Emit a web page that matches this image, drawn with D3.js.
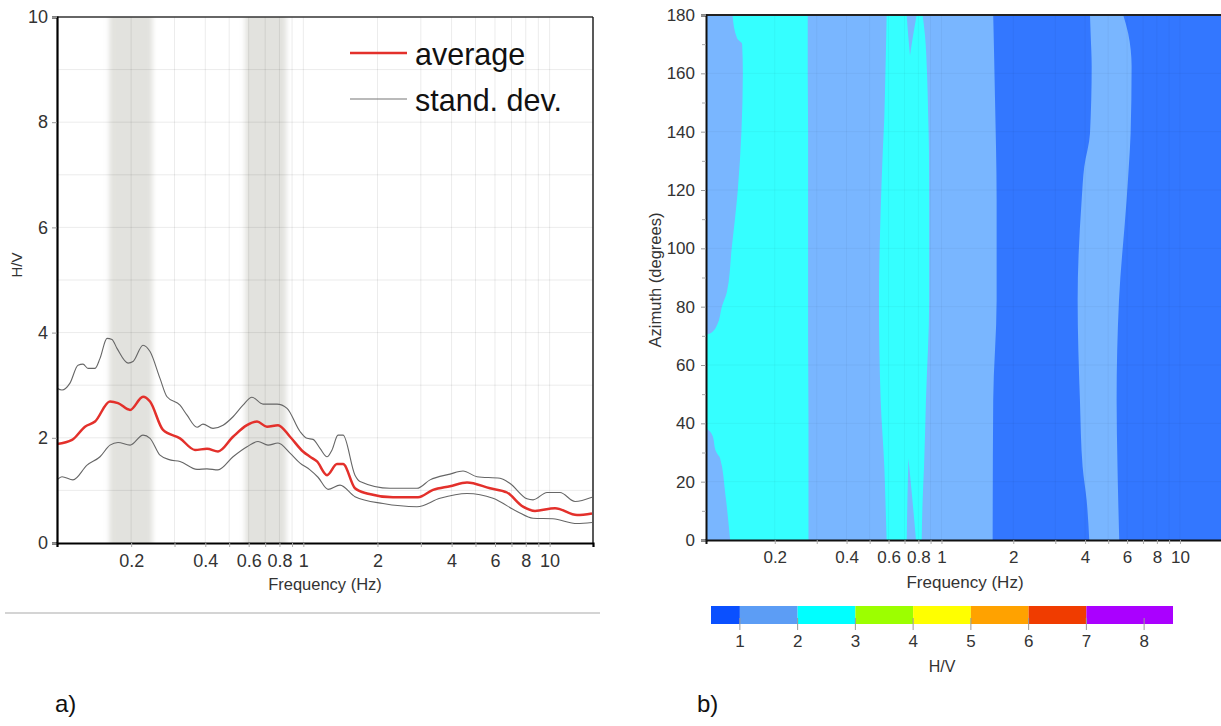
<!DOCTYPE html>
<html>
<head>
<meta charset="utf-8">
<script src="https://cdn.jsdelivr.net/npm/d3@7"></script>
<style>
  html, body { margin: 0; padding: 0; background: #fff; }
  svg { display: block; }
  text { font-family: "Liberation Sans", Arial, sans-serif; }
</style>
</head>
<body>
<svg id="chart" width="1221" height="726"></svg>
<script>
// ---------------- DATA ----------------
// Panel a) H/V curves (frequency in Hz, H/V ratio)
const avgFreq = [0.100,0.1151,0.1299,0.1427,0.1641,0.1769,0.1980,0.2235,0.2386,0.2694,0.3158,0.3634,0.4064,0.4505,0.5184,0.5907,0.6486,0.7121,0.7896,0.8831,0.997,1.065,1.1365,1.248,1.370,1.450,1.621,1.814,2.313,2.922,3.362,3.941,4.619,5.728,6.714,7.798,8.723,10.52,12.92,14.86];
const avgHV   = [1.88,1.96,2.21,2.31,2.69,2.66,2.53,2.78,2.69,2.15,1.99,1.77,1.79,1.74,2.02,2.24,2.31,2.21,2.24,2.02,1.74,1.64,1.55,1.29,1.50,1.50,1.04,0.94,0.87,0.87,1.01,1.08,1.15,1.04,0.96,0.69,0.61,0.66,0.53,0.56];

const upFreq = [0.100,0.1048,0.1129,0.1217,0.1275,0.1336,0.1427,0.1495,0.1596,0.1672,0.1752,0.1943,0.2035,0.2235,0.2386,0.2619,0.2797,0.3158,0.3373,0.3703,0.3915,0.4299,0.4721,0.5184,0.5690,0.6189,0.6860,0.7822,0.8588,0.9697,1.035,1.095,1.169,1.248,1.308,1.383,1.450,1.621,1.699,2.249,2.894,3.269,3.941,4.450,5.073,6.290,6.906,8.094,8.562,9.759,11.02,12.68,14.86];
const upHV   = [2.94,2.91,3.04,3.38,3.40,3.32,3.32,3.51,3.89,3.87,3.70,3.42,3.45,3.76,3.64,3.13,2.78,2.62,2.43,2.20,2.26,2.18,2.24,2.40,2.62,2.77,2.64,2.64,2.56,2.12,1.99,1.97,1.80,1.64,1.77,2.05,2.05,1.29,1.17,1.04,1.04,1.20,1.31,1.37,1.26,1.23,1.13,0.84,0.82,0.96,0.96,0.79,0.87];

const loFreq = [0.100,0.1048,0.1161,0.1324,0.1495,0.1641,0.1769,0.1980,0.2235,0.2386,0.2619,0.2876,0.3158,0.3703,0.4064,0.4505,0.5184,0.5907,0.6548,0.7188,0.7896,0.8831,0.9697,1.0646,1.1473,1.260,1.409,1.621,2.107,2.894,3.589,4.619,5.891,7.373,8.562,10.32,12.92,14.86];
const loHV   = [1.20,1.26,1.20,1.48,1.64,1.86,1.91,1.86,2.05,1.99,1.67,1.58,1.55,1.40,1.41,1.39,1.64,1.83,1.93,1.86,1.90,1.71,1.52,1.39,1.25,1.02,1.10,0.88,0.75,0.69,0.85,0.94,0.85,0.60,0.47,0.46,0.37,0.39];

// Peak frequency ranges (grey bands), Hz
const bandStart = [0.163, 0.581];
const bandEnd   = [0.244, 0.853];

// Axis tick values / labels
const freqTickVals   = [0.2, 0.4, 0.6, 0.8, 1, 2, 4, 6, 8, 10];
const freqTickLabels = ["0.2", "0.4", "0.6", "0.8", "1", "2", "4", "6", "8", "10"];
const freqGridVals   = [0.2,0.3,0.4,0.5,0.6,0.7,0.8,0.9,1,2,3,4,5,6,7,8,9,10];
const hvTickVals     = [0, 2, 4, 6, 8, 10];
const hvGridVals     = [1,2,3,4,5,6,7,8,9];
const azTickVals     = [0, 20, 40, 60, 80, 100, 120, 140, 160, 180];
const azMinorVals    = [10, 30, 50, 70, 90, 110, 130, 150, 170];

// Legend
const legendLabels = ["average", "stand. dev."];

// Panel b) contour map boundaries (azimuth in degrees, frequency in Hz)
// light-blue (1-2) zone from the left edge up to this boundary
const lbAz    = [0, 48, 82, 117, 152, 180];
const lbRight = [1.639, 1.648, 1.703, 1.703, 1.676, 1.648];
// light-blue stripe around 4-6 Hz
const stAz    = [0, 13.7, 25.1, 48, 82.3, 116.6, 128, 139.4, 162.4, 173.7, 180];
const stLeft  = [4.165, 4.060, 3.906, 3.806, 3.723, 3.870, 3.968, 4.194, 4.263, 4.22, 4.194];
const stRight = [5.563, 5.508, 5.47, 5.424, 5.55, 5.973, 6.10, 6.209, 6.268, 6.066, 5.781];
// cyan (2-3) band 1
const c1Az    = [0, 16, 28, 30, 36.3, 40.8, 69.7, 71, 74, 80, 85, 100, 120, 140, 160, 170, 172, 180];
const c1Left  = [0.130, 0.124, 0.118, 0.114, 0.109, 0.098, 0.098, 0.108, 0.115, 0.120, 0.126, 0.132, 0.140, 0.145, 0.147, 0.146, 0.139, 0.133];
const c1Right = [0.277, 0.277, 0.277, 0.277, 0.277, 0.277, 0.276, 0.276, 0.276, 0.276, 0.276, 0.276, 0.276, 0.276, 0.275, 0.275, 0.275, 0.275];
// cyan (2-3) band 2
const c2Az    = [0, 14, 25, 48, 82, 113, 134, 145, 160, 173, 180];
const c2Left  = [0.589, 0.582, 0.576, 0.556, 0.547, 0.556, 0.568, 0.576, 0.582, 0.587, 0.589];
const c2Right = [0.826, 0.834, 0.845, 0.861, 0.888, 0.888, 0.886, 0.880, 0.870, 0.853, 0.834];
// light-blue notches inside cyan band 2
const n1Az    = [166, 172, 180];
const n1Left  = [0.738, 0.727, 0.715];
const n1Right = [0.738, 0.757, 0.787];
const n2Az    = [0, 14, 28];
const n2Left  = [0.715, 0.720, 0.727];
const n2Right = [0.782, 0.755, 0.727];

// Colour scale (H/V classes)
const cbBreaks = [0.5, 1, 2, 3, 4, 5, 6, 7, 8.5];
const cbColors = ["#0a50ff", "#5c9df5", "#00ffff", "#9cff00", "#ffff00", "#ffa200", "#f03c00", "#aa00ff"];
const cbTicks  = [1, 2, 3, 4, 5, 6, 7, 8];
const mapColors = { low: "#3377ff", mid: "#79b6ff", high: "#35ffff" };

// ---------------- DRAW ----------------
const svg = d3.select("#chart");
const defs = svg.append("defs");
defs.append("filter").attr("id", "blurx").attr("x", "-20%").attr("width", "140%")
  .append("feGaussianBlur").attr("stdDeviation", "2.5 0");

// ===== Panel a =====
const xL = d3.scaleLog().domain([0.1, 15]).range([57, 593]);
const yL = d3.scaleLinear().domain([0, 10]).range([543, 17]);

defs.append("clipPath").attr("id", "clipL").append("rect")
  .attr("x", 57).attr("y", 17).attr("width", 536).attr("height", 526);

const gA = svg.append("g");
const gClipA = gA.append("g").attr("clip-path", "url(#clipL)");

// grey bands
gClipA.append("g").attr("filter", "url(#blurx)")
  .selectAll("rect").data(bandStart).join("rect")
  .attr("x", (d) => xL(d))
  .attr("width", (d, i) => xL(bandEnd[i]) - xL(d))
  .attr("y", yL(10)).attr("height", yL(0) - yL(10))
  .attr("fill", "#e2e2de");

// grid
gClipA.append("g").selectAll("line").data(freqGridVals).join("line")
  .attr("x1", d => xL(d)).attr("x2", d => xL(d))
  .attr("y1", yL(0)).attr("y2", yL(10))
  .attr("stroke", "#000").attr("stroke-opacity", 0.08).attr("stroke-width", 1);
gClipA.append("g").selectAll("line").data(hvGridVals).join("line")
  .attr("x1", xL(0.1)).attr("x2", xL(15))
  .attr("y1", d => yL(d)).attr("y2", d => yL(d))
  .attr("stroke", "#000").attr("stroke-opacity", 0.08).attr("stroke-width", 1);

// curves
const lineAvg = d3.line().x((d, i) => xL(avgFreq[i])).y(d => yL(d)).curve(d3.curveMonotoneX);
const lineUp  = d3.line().x((d, i) => xL(upFreq[i])).y(d => yL(d)).curve(d3.curveMonotoneX);
const lineLo  = d3.line().x((d, i) => xL(loFreq[i])).y(d => yL(d)).curve(d3.curveMonotoneX);
gClipA.append("path").attr("d", lineUp(upHV)).attr("fill", "none").attr("stroke", "#666").attr("stroke-width", 1.1);
gClipA.append("path").attr("d", lineLo(loHV)).attr("fill", "none").attr("stroke", "#666").attr("stroke-width", 1.1);
gClipA.append("path").attr("d", lineAvg(avgHV)).attr("fill", "none").attr("stroke", "#e3302b").attr("stroke-width", 2.5);

// frame
gA.append("line").attr("x1", xL(0.1)).attr("x2", xL(15)).attr("y1", yL(10)).attr("y2", yL(10)).attr("stroke", "#333").attr("stroke-width", 1.5);
gA.append("line").attr("x1", xL(15)).attr("x2", xL(15)).attr("y1", yL(10)).attr("y2", yL(0)).attr("stroke", "#222").attr("stroke-width", 1.5);

// axes
const axYL = gA.append("g").attr("transform", `translate(${xL(0.1)},0)`)
  .call(d3.axisLeft(yL).tickValues(hvTickVals).tickSize(5).tickPadding(4).tickFormat(d3.format("d")));
axYL.select(".domain").attr("stroke", "#000").attr("stroke-width", 2.2);
axYL.selectAll(".tick line").attr("stroke", "#999");
axYL.selectAll(".tick text").attr("font-size", 18).attr("fill", "#333").attr("font-family", "Liberation Sans, Arial, sans-serif");

const axXL = gA.append("g").attr("transform", `translate(0,${yL(0)})`)
  .call(d3.axisBottom(xL).tickValues(freqGridVals).tickSize(4).tickPadding(7)
    .tickFormat(d => { const k = freqTickVals.indexOf(d); return k >= 0 ? freqTickLabels[k] : ""; }));
axXL.select(".domain").attr("stroke", "#000").attr("stroke-width", 2.2);
axXL.selectAll(".tick line").attr("stroke", "#aaa");
axXL.selectAll(".tick text").attr("font-size", 18).attr("fill", "#333").attr("font-family", "Liberation Sans, Arial, sans-serif");

gA.append("text").attr("x", 325).attr("y", 590).attr("text-anchor", "middle")
  .attr("font-size", 16.5).attr("fill", "#333").text("Frequency (Hz)");
gA.append("text").attr("transform", "translate(22,265) rotate(-90)").attr("text-anchor", "middle")
  .attr("font-size", 15).attr("fill", "#333").text("H/V");

// legend
const legColors = ["#e3302b", "#777"];
const legWidths = [2.4, 1.1];
const leg = gA.append("g").selectAll("g").data(legendLabels).join("g")
  .attr("transform", (d, i) => `translate(350,${53 + i * 46})`);
leg.append("line").attr("x1", 0).attr("x2", 57).attr("y1", 0).attr("y2", 0)
  .attr("stroke", (d, i) => legColors[i]).attr("stroke-width", (d, i) => legWidths[i]);
leg.append("text").attr("x", 65).attr("y", 12).attr("font-size", 30.5)
  .attr("font-family", "Noto Sans, DejaVu Sans, sans-serif").attr("fill", "#111").text(d => d);

// separator line
svg.append("line").attr("x1", 5).attr("x2", 600).attr("y1", 613).attr("y2", 613)
  .attr("stroke", "#aaa").attr("stroke-width", 1.2);

// ===== Panel b =====
const xR = d3.scaleLog().domain([0.103, 15]).range([706, 1222]);
const yR = d3.scaleLinear().domain([0, 180]).range([540, 15]);

defs.append("clipPath").attr("id", "clipR").append("rect")
  .attr("x", 706).attr("y", 15).attr("width", 520).attr("height", 525);

const gB = svg.append("g");
const gClipB = gB.append("g").attr("clip-path", "url(#clipR)");

gClipB.append("rect").attr("x", xR(0.103)).attr("y", yR(180))
  .attr("width", xR(15) - xR(0.103)).attr("height", yR(0) - yR(180)).attr("fill", mapColors.low);

const vArea = (azs, lefts, rights) => d3.area()
  .y((d, i) => yR(azs[i]))
  .x0((d, i) => xR(lefts[i]))
  .x1((d, i) => xR(rights[i]))
  .curve(d3.curveMonotoneY)(azs);

const lbLeft = lbAz.map(() => 0.09);
gClipB.append("path").attr("d", vArea(lbAz, lbLeft, lbRight)).attr("fill", mapColors.mid);
gClipB.append("path").attr("d", vArea(stAz, stLeft, stRight)).attr("fill", mapColors.mid);
gClipB.append("path").attr("d", vArea(c1Az, c1Left, c1Right)).attr("fill", mapColors.high);
gClipB.append("path").attr("d", vArea(c2Az, c2Left, c2Right)).attr("fill", mapColors.high);
gClipB.append("path").attr("d", vArea(n1Az, n1Left, n1Right)).attr("fill", mapColors.mid);
gClipB.append("path").attr("d", vArea(n2Az, n2Left, n2Right)).attr("fill", mapColors.mid);

// faint grid
gClipB.append("g").selectAll("line").data(freqGridVals).join("line")
  .attr("x1", d => xR(d)).attr("x2", d => xR(d)).attr("y1", yR(0)).attr("y2", yR(180))
  .attr("stroke", "#000").attr("stroke-opacity", 0.04);
gClipB.append("g").selectAll("line").data(azTickVals).join("line")
  .attr("x1", xR(0.103)).attr("x2", xR(15)).attr("y1", d => yR(d)).attr("y2", d => yR(d))
  .attr("stroke", "#000").attr("stroke-opacity", 0.04);

// frame top
gB.append("line").attr("x1", 706).attr("x2", 1221).attr("y1", yR(180)).attr("y2", yR(180))
  .attr("stroke", "#222").attr("stroke-width", 2);

const axYR = gB.append("g").attr("transform", `translate(${xR(0.103)},0)`)
  .call(d3.axisLeft(yR).tickValues(azTickVals).tickSize(5).tickPadding(6).tickFormat(d3.format("d")));
axYR.select(".domain").attr("stroke", "#111").attr("stroke-width", 2);
axYR.selectAll(".tick line").attr("stroke", "#999");
axYR.selectAll(".tick text").attr("font-size", 17).attr("fill", "#333").attr("font-family", "Liberation Sans, Arial, sans-serif");
const axYRm = gB.append("g").attr("transform", `translate(${xR(0.103)},0)`)
  .call(d3.axisLeft(yR).tickValues(azMinorVals).tickSize(4).tickFormat(""));
axYRm.select(".domain").remove();
axYRm.selectAll(".tick line").attr("stroke", "#aaa");

const axXR = gB.append("g").attr("transform", `translate(0,${yR(0)})`)
  .call(d3.axisBottom(xR).tickValues(freqGridVals).tickSize(4).tickPadding(7)
    .tickFormat(d => { const k = freqTickVals.indexOf(d); return k >= 0 ? freqTickLabels[k] : ""; }));
axXR.select(".domain").attr("stroke", "#111").attr("stroke-width", 2);
axXR.selectAll(".tick line").attr("stroke", "#aaa");
axXR.selectAll(".tick text").attr("font-size", 17).attr("fill", "#333").attr("font-family", "Liberation Sans, Arial, sans-serif");

gB.append("text").attr("x", 965).attr("y", 588).attr("text-anchor", "middle")
  .attr("font-size", 17).attr("fill", "#333").text("Frequency (Hz)");
gB.append("text").attr("transform", "translate(661,280) rotate(-90)").attr("text-anchor", "middle")
  .attr("font-size", 16.5).attr("fill", "#333").text("Azimuth (degrees)");

// colour bar
const cb = d3.scaleLinear().domain([0.5, 8.5]).range([711, 1173]);
const gCB = svg.append("g");
gCB.selectAll("rect").data(cbColors).join("rect")
  .attr("x", (d, i) => cb(cbBreaks[i]))
  .attr("width", (d, i) => cb(cbBreaks[i + 1]) - cb(cbBreaks[i]))
  .attr("y", 606).attr("height", 18).attr("fill", d => d);
gCB.selectAll("line").data(cbTicks).join("line")
  .attr("x1", d => cb(d)).attr("x2", d => cb(d)).attr("y1", 618).attr("y2", 630)
  .attr("stroke", "#999").attr("stroke-width", 1);
gCB.selectAll("text.cbl").data(cbTicks).join("text").attr("class", "cbl")
  .attr("x", d => cb(d)).attr("y", 647).attr("text-anchor", "middle")
  .attr("font-size", 17).attr("fill", "#333").text(d => d);
gCB.append("text").attr("x", 942).attr("y", 672).attr("text-anchor", "middle")
  .attr("font-size", 16).attr("fill", "#333").text("H/V");

// panel labels
svg.append("text").attr("x", 55).attr("y", 712).attr("font-size", 24)
  .attr("font-family", "Liberation Serif, DejaVu Serif, serif").attr("fill", "#111").text("a)");
svg.append("text").attr("x", 697).attr("y", 712).attr("font-size", 24)
  .attr("font-family", "Liberation Serif, DejaVu Serif, serif").attr("fill", "#111").text("b)");
</script>
</body>
</html>
